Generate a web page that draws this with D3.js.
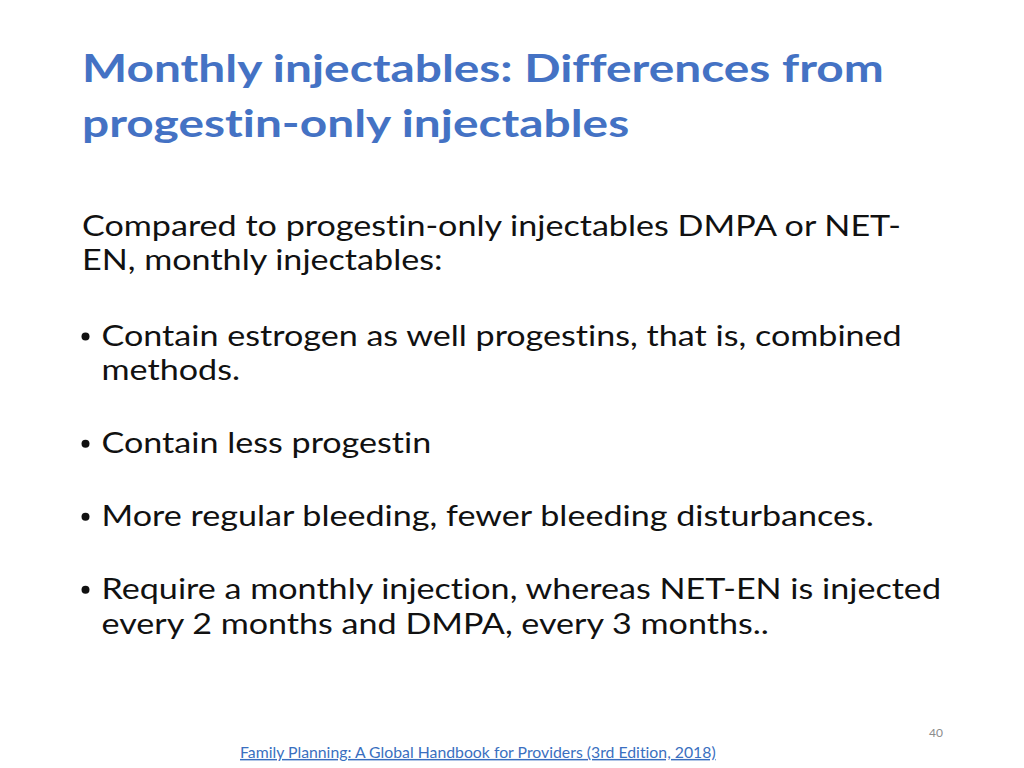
<!DOCTYPE html>
<html>
<head>
<meta charset="utf-8">
<script src="https://cdn.jsdelivr.net/npm/d3@7"></script>
<style>
  html, body { margin: 0; padding: 0; background: #fff; }
  svg { display: block; }
  svg text { font-variant-ligatures: none; font-feature-settings: "liga" 0, "clig" 0; }
</style>
</head>
<body>
<svg id="slide" width="1024" height="768"></svg>
<script>
// ---- content ----
const titleLines = ["Monthly injectables: Differences from", "progestin-only injectables"];
const introLines = ["Compared to progestin-only injectables DMPA or NET-", "EN, monthly injectables:"];
const bulletItems = [
  ["Contain estrogen as well progestins, that is, combined", "methods."],
  ["Contain less progestin"],
  ["More regular bleeding, fewer bleeding disturbances."],
  ["Require a monthly injection, whereas NET-EN is injected", "every 2 months and DMPA, every 3 months.."]
];
const footnoteText = "Family Planning: A Global Handbook for Providers (3rd Edition, 2018)";
const pageNumber = "40";

// ---- layout ----
const W = 1024, H = 768;
const svg = d3.select("#slide");
svg.append("rect").attr("width", W).attr("height", H).attr("fill", "#fff");

const FONT = "Lato, 'Open Sans', 'DejaVu Sans', sans-serif";

function measure(text, size, weight) {
  const t = svg.append("text").attr("font-family", FONT).attr("font-size", size)
    .attr("font-weight", weight).text(text);
  const w = t.node().getComputedTextLength();
  t.remove();
  return w;
}

// Title
const titleSize = 38.5;
const titleScale = 802 / measure(titleLines[0], titleSize, 700);
const titleG = svg.append("g").attr("transform", `translate(82,0) scale(${titleScale},1)`);
const titleY = d3.scaleLinear().domain([0, 1]).range([82, 137]);
titleG.selectAll("text").data(titleLines).join("text")
  .attr("x", 0).attr("y", (d, i) => titleY(i))
  .attr("font-family", FONT).attr("font-size", titleSize).attr("font-weight", 700)
  .attr("fill", "#4472C4").text(d => d);

// Body
const bodySize = 29.8;
const bodyScale = 840 / measure(bulletItems[3][0], bodySize, 400);
const lineGap = 34.3;
const introG = svg.append("g").attr("transform", `translate(82,0) scale(${bodyScale},1)`);
introG.selectAll("text").data(introLines).join("text")
  .attr("x", 0).attr("y", (d, i) => 236 + i * lineGap)
  .attr("font-family", FONT).attr("font-size", bodySize)
  .attr("fill", "#111").text(d => d);

// bullet paragraph baselines
const paraGap = 73;
let y = 346;
const paras = bulletItems.map(lines => {
  const p = { lines, y0: y };
  y += (lines.length - 1) * lineGap + paraGap;
  return p;
});

const bulletG = svg.append("g");
paras.forEach(p => {
  bulletG.append("circle").attr("cx", 85.5).attr("cy", p.y0 - 9.5).attr("r", 4).attr("fill", "#111");
  const g = bulletG.append("g").attr("transform", `translate(101.5,0) scale(${bodyScale},1)`);
  g.selectAll("text").data(p.lines).join("text")
    .attr("x", 0).attr("y", (d, i) => p.y0 + i * lineGap)
    .attr("font-family", FONT).attr("font-size", bodySize)
    .attr("fill", "#111").text(d => d);
});

// Page number
svg.append("text").attr("x", 943).attr("y", 737).attr("text-anchor", "end")
  .attr("font-family", FONT).attr("font-size", 12).attr("fill", "#8c8c8c").text(pageNumber);

// Footnote link
const footSize = 14.5;
const footScale = 476 / measure(footnoteText, footSize, 400);
svg.append("g").attr("transform", `translate(240,0) scale(${footScale},1)`)
  .append("text").attr("x", 0).attr("y", 758)
  .attr("font-family", FONT).attr("font-size", footSize)
  .attr("fill", "#3a6fc0").attr("text-decoration", "underline")
  .text(footnoteText);
</script>
</body>
</html>
